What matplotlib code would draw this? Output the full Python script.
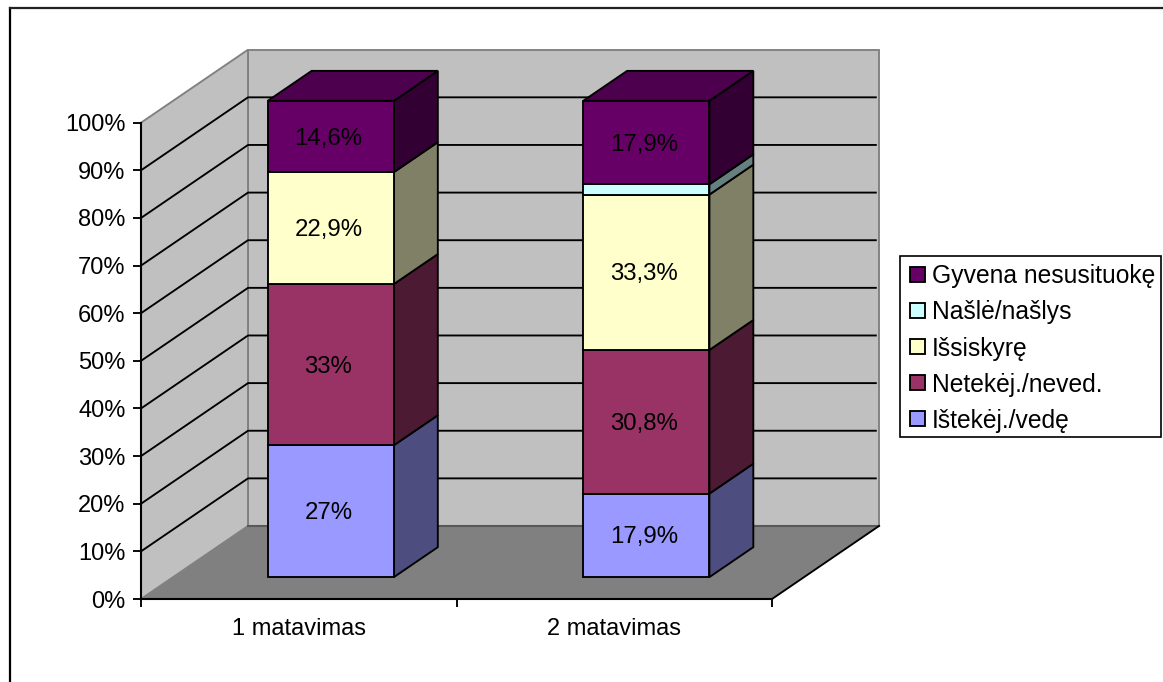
import matplotlib
matplotlib.use("Agg")
import matplotlib.pyplot as plt
from matplotlib.lines import Line2D
from matplotlib.patches import Patch, Polygon, Rectangle

plt.rcParams["font.family"] = ["Liberation Sans", "DejaVu Sans"]

categories = ["1 matavimas", "2 matavimas"]
series_names = ["Ištekėj./vedę", "Netekėj./neved.", "Išsiskyrę", "Našlė/našlys", "Gyvena nesusituokę"]
values_1 = [27, 33, 22.9, 0, 14.6]
values_2 = [17.9, 30.8, 33.3, 2.2, 17.9]
labels_1 = ["27%", "33%", "22,9%", "", "14,6%"]
labels_2 = ["17,9%", "30,8%", "33,3%", "", "17,9%"]
y_ticks = [0, 10, 20, 30, 40, 50, 60, 70, 80, 90, 100]

front_colors = ["#9999FF", "#993366", "#FFFFCC", "#CCFFFF", "#660066"]
side_colors = ["#4D4D80", "#4D1A33", "#808066", "#668080", "#330033"]
top_color = "#4D004D"

W, H = 1163, 682
FS = 17.3
LW = 1.35
# oblique offset of the whole chart depth, in data units
DX = 107 / 315.5
DY = 73 / 4.763
BAR_W = 0.4
F0, F1 = 0.30, 0.71  # front and back of the bars as part of the depth


def px(x, y, f=0.0):
    return (x + DX * f, y + DY * f)


fig = plt.figure(figsize=(W / 100, H / 100), dpi=100)
ax = fig.add_axes([141 / W, (H - 599) / H, 631 / W, 476.3 / H])
ax.set_xlim(0, 2)
ax.set_ylim(0, 100)
ax.patch.set_visible(False)

# outer chart frame, only top and left show in the crop
fig.add_artist(Line2D([10 / W, 10 / W], [0, (H - 8) / H], color="black", lw=1.6))
fig.add_artist(Line2D([10 / W, 1], [(H - 8) / H, (H - 8) / H], color="#222222", lw=1.6))


def face(points, color, edge, z, lw=LW):
    ax.add_patch(Polygon(points, closed=True, facecolor=color, edgecolor=edge, lw=lw,
                         zorder=z, clip_on=False, joinstyle="miter"))


# floor and walls
face([px(0, 0), px(2, 0), px(2, 0, 1), px(0, 0, 1)], "#808080", "none", 1)
face([px(0, 0), px(0, 0, 1), px(0, 100, 1), px(0, 100)], "#C0C0C0", "#808080", 1.2)
face([px(0, 0, 1), px(2, 0, 1), px(2, 100, 1), px(0, 100, 1)], "#C0C0C0", "#808080", 1.1)
ax.plot(*zip(px(0, 0, 1), px(2, 0, 1)), color="#595959", lw=1.5, zorder=1.3, clip_on=False)
ax.plot(*zip(px(2, 0), px(2, 0, 1)), color="black", lw=LW, zorder=1.3, clip_on=False)

for t in y_ticks[1:-1]:
    ax.plot(*zip(px(0, t), px(0, t, 1), px(1.99, t, 1)), color="black", lw=LW,
            zorder=1.5, clip_on=False)

# stacked bars
for i, (vals, labels) in enumerate([(values_1, labels_1), (values_2, labels_2)]):
    total = sum(vals)
    x0 = i + 0.5 - BAR_W / 2
    x1 = i + 0.5 + BAR_W / 2
    bottom = 0
    for j, v in enumerate(vals):
        if v == 0:
            continue
        top = bottom + v / total * 100
        face([px(x1, bottom, F0), px(x1, bottom, F1), px(x1, top, F1), px(x1, top, F0)],
             side_colors[j], "black", 2 + j * 0.1)
        face([px(x0, bottom, F0), px(x1, bottom, F0), px(x1, top, F0), px(x0, top, F0)],
             front_colors[j], "black", 2.05 + j * 0.1)
        cx, cy = px((x0 + x1) / 2, (bottom + top) / 2, F0)
        if labels[j]:
            ax.text(cx - 0.008, cy - 0.45, labels[j], ha="center", va="center", fontsize=FS,
                    color="black", zorder=4)
        bottom = top
    face([px(x0, 100, F0), px(x1, 100, F0), px(x1, 100, F1), px(x0, 100, F1)], top_color, "black", 3)

# axes
for s in ["top", "right"]:
    ax.spines[s].set_visible(False)
for s in ["left", "bottom"]:
    ax.spines[s].set_linewidth(1.5)
    ax.spines[s].set_zorder(5)
ax.set_yticks(y_ticks)
ax.set_yticklabels([f"{t}%" for t in y_ticks], fontsize=17)
ax.set_xticks([0, 1, 2])
ax.set_xticklabels([])
ax.set_xticks([0.5, 1.5], minor=True)
ax.set_xticklabels(categories, minor=True, fontsize=17)
ax.tick_params(axis="y", length=6, width=LW, pad=5)
ax.tick_params(axis="x", which="major", length=6, width=LW)
ax.tick_params(axis="x", which="minor", length=0, pad=14)

# legend box drawn apart so the rows can sit where they do in the original
fig.add_artist(Rectangle((900.5 / W, (H - 437) / H), 260 / W, 181 / H, transform=fig.transFigure,
                         facecolor="white", edgecolor="black", lw=1.2))
handles = [Patch(facecolor=c, edgecolor="black", lw=LW, label=n)
           for c, n in zip(front_colors, series_names)]
leg = fig.legend(handles[::-1], series_names[::-1], loc="lower left",
                 bbox_to_anchor=(903 / W, (H - 440) / H), bbox_transform=fig.transFigure,
                 fontsize=17.7, frameon=False,
                 labelspacing=0.49, handlelength=0.61, handleheight=0.56, handletextpad=0.25,
                 borderpad=0.3, borderaxespad=0)
leg.set_zorder(10)

fig.savefig("out.png", dpi=100)
